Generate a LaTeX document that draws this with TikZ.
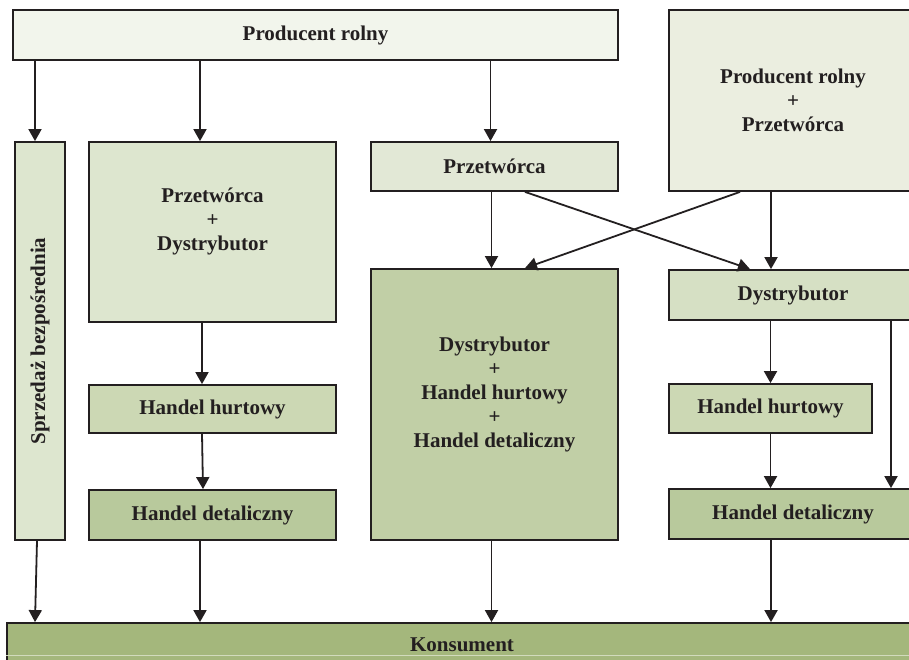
\documentclass[tikz,border=0pt]{standalone}
\usepackage{fontspec}
\setmainfont{Liberation Serif}
\usepackage{graphicx}
\usetikzlibrary{arrows.meta}

\definecolor{cprod}{HTML}{F2F5EC}
\definecolor{cprodprz}{HTML}{EBEEE0}
\definecolor{cpd}{HTML}{DDE6CF}
\definecolor{cprzet}{HTML}{E2E8D6}
\definecolor{cdhh}{HTML}{C1CFA6}
\definecolor{cdystr}{HTML}{D6E0C4}
\definecolor{chh}{HTML}{CCD8B4}
\definecolor{chd}{HTML}{B8C99C}
\definecolor{ckons}{HTML}{A4B77C}
\definecolor{cline}{HTML}{231F20}

\begin{document}
\begin{tikzpicture}[x=1pt,y=-1pt,
  box/.style={draw=cline,line width=1.8pt,inner sep=0pt,align=center,
    font=\fontsize{21}{24}\selectfont\bfseries,text=cline},
  arr/.style={draw=cline,line width=1.8pt,-{Triangle[width=13pt,length=12pt]}}]
\clip (0,0) rectangle (909,660);
\fill[white] (0,0) rectangle (909,660);
% boxes
\node[box,fill=cprod,minimum width=605pt,minimum height=50pt] (prod) at (315.5,35) {Producent rolny};
\node[box,fill=cprodprz,minimum width=248pt,minimum height=181pt] (prodprz) at (793,100.5) {Producent rolny\\+\\Przetwórca};
\node[box,fill=cpd,minimum width=50pt,minimum height=398pt] (sprz) at (40,341) {\rotatebox{90}{Sprzedaż bezpośrednia}};
\node[box,fill=cpd,minimum width=247pt,minimum height=180pt,text depth=25pt] (pd) at (212.5,232) {Przetwórca\\+\\Dystrybutor};
\node[box,fill=cprzet,minimum width=247pt,minimum height=49pt] (przet) at (494.5,166.5) {Przetwórca};
\node[box,fill=cdhh,minimum width=247pt,minimum height=271pt,text depth=25pt] (dhh) at (494.5,404.5) {Dystrybutor\\+\\Handel hurtowy\\+\\Handel detaliczny};
\node[box,fill=cdystr,minimum width=248pt,minimum height=50pt] (dystr) at (793,295) {Dystrybutor};
\node[box,fill=chh,minimum width=247pt,minimum height=48pt] (hhl) at (212.5,409) {Handel hurtowy};
\node[box,fill=chh,minimum width=203pt,minimum height=49pt] (hhr) at (770.5,408.5) {Handel hurtowy};
\node[box,fill=chd,minimum width=247pt,minimum height=50pt] (hdl) at (212.5,515) {Handel detaliczny};
\node[box,fill=chd,minimum width=248pt,minimum height=50pt] (hdr) at (793,514) {Handel detaliczny};
\node[box,fill=ckons,minimum width=910pt,minimum height=44pt] (kons) at (462,645) {Konsument};
\draw[ckons!50!white,line width=1pt] ([yshift=-10pt]kons.west) -- ([yshift=-10pt]kons.east);
% arrows
\draw[arr] ([xshift=-5pt]sprz.north |- prod.south) -- ([xshift=-5pt]sprz.north);
\draw[arr] ([xshift=-12.5pt]pd.north |- prod.south) -- ([xshift=-12.5pt]pd.north);
\draw[arr] ([xshift=-4pt]przet.north |- prod.south) -- ([xshift=-4pt]przet.north);
\draw[arr] ([xshift=-3pt]przet.south) -- ([xshift=-3pt]dhh.north);
\draw[arr] ([xshift=30.5pt]przet.south) -- ([xshift=-43pt]dystr.north);
\draw[arr] ([xshift=-53pt]prodprz.south) -- ([xshift=30.5pt]dhh.north);
\draw[arr] ([xshift=-22pt]prodprz.south) -- ([xshift=-22pt]dystr.north);
\draw[arr] ([xshift=-10.5pt]pd.south) -- ([xshift=-10.5pt]hhl.north);
\draw[arr] ([xshift=-10.5pt]hhl.south) -- ([xshift=-9.5pt]hdl.north);
\draw[arr] (hhr.north |- dystr.south) -- (hhr.north);
\draw[arr] ([xshift=98pt]dystr.south) -- ([xshift=98pt]dystr.south |- hdr.north);
\draw[arr] (hhr.south) -- (hhr.south |- hdr.north);
\draw[arr] ([xshift=-3pt]sprz.south) -- ([xshift=-5pt]sprz.south |- kons.north);
\draw[arr] ([xshift=-12.5pt]hdl.south) -- ([xshift=-12.5pt]hdl.south |- kons.north);
\draw[arr] ([xshift=-3pt]dhh.south) -- ([xshift=-3pt]dhh.south |- kons.north);
\draw[arr] ([xshift=-22pt]hdr.south) -- ([xshift=-22pt]hdr.south |- kons.north);
\end{tikzpicture}
\end{document}
